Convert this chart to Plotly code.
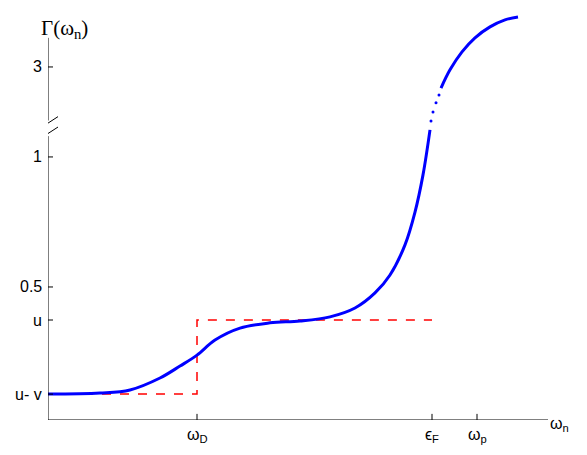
import plotly.graph_objects as go

# lower branch of Γ(ω_n) (x in pixel-like units, y in display units)
x_low = [48, 100, 130, 160, 180, 197, 215, 240, 270, 300, 330, 355, 375, 390, 405, 415, 423, 430]
y_low = [0.088, 0.092, 0.104, 0.150, 0.196, 0.238, 0.296, 0.342, 0.362, 0.369, 0.385, 0.419,
         0.477, 0.546, 0.662, 0.788, 0.931, 1.104]
x_dots = [431, 433, 436, 439]
y_dots = [1.138, 1.173, 1.208, 1.238]
x_up = [441, 450, 462, 475, 490, 505, 518]
y_up = [1.265, 1.335, 1.404, 1.458, 1.500, 1.527, 1.538]
x_step = [48, 197, 197, 432]
y_step = [0.088, 0.088, 0.373, 0.373]

xtick_vals = [197, 432, 477]
xtick_text = ["ω<sub>D</sub>", "ϵ<sub>F</sub>", "ω<sub>p</sub>"]
ytick_vals = [0.088, 0.373, 0.5, 1.0, 1.346]
ytick_text = ["u- v", "u", "0.5", "1", "3"]

blue = "#0000ff"
fig = go.Figure()
fig.add_trace(go.Scatter(x=x_step, y=y_step, mode="lines",
                         line=dict(color="#ff0000", width=1.5, dash="dash")))
fig.add_trace(go.Scatter(x=x_low, y=y_low, mode="lines",
                         line=dict(color=blue, width=3, shape="spline")))
fig.add_trace(go.Scatter(x=x_dots, y=y_dots, mode="markers",
                         marker=dict(color=blue, size=3)))
fig.add_trace(go.Scatter(x=x_up, y=y_up, mode="lines",
                         line=dict(color=blue, width=3, shape="spline")))

ax = dict(color="black", width=1)
shapes = [
    dict(type="line", xref="x", yref="y", x0=48, x1=548, y0=-0.0115, y1=-0.0115, line=ax),
    dict(type="line", xref="x", yref="y", x0=48, x1=48, y0=-0.0115, y1=1.08, line=ax),
    dict(type="line", xref="x", yref="y", x0=48, x1=48, y0=1.14, y1=1.458, line=ax),
    dict(type="line", xref="x", yref="y", x0=38, x1=58, y0=1.065, y1=1.115, line=ax),
    dict(type="line", xref="x", yref="y", x0=38, x1=58, y0=1.105, y1=1.155, line=ax),
]
for v in xtick_vals:
    shapes.append(dict(type="line", xref="x", yref="y", x0=v, x1=v, y0=-0.0115, y1=0.012, line=ax))
for v in ytick_vals:
    shapes.append(dict(type="line", xref="x", yref="y", x0=48, x1=53, y0=v, y1=v, line=ax))

font = dict(family="Liberation Sans", size=16, color="black")
annotations = [dict(x=v, y=-0.0115, text=t, showarrow=False, yanchor="top", yshift=-4, font=font)
               for v, t in zip(xtick_vals, xtick_text)]
annotations += [dict(x=48, y=v, text=t, showarrow=False, xanchor="right", xshift=-4, font=font)
                for v, t in zip(ytick_vals, ytick_text)]
annotations.append(dict(x=1.0, xref="paper", y=-0.0115, text="ω<sub>n</sub>", showarrow=False,
                        xanchor="left", yanchor="middle", xshift=0, yshift=-4, font=font))
annotations.append(dict(x=0.0, xref="paper", y=1.0, yref="paper", text="Γ(ω<sub>n</sub>)",
                        showarrow=False, xanchor="center", yanchor="top", xshift=16, yshift=-4,
                        font=dict(family="Liberation Serif", size=21, color="black")))

fig.update_layout(
    width=587, height=455, showlegend=False,
    paper_bgcolor="white", plot_bgcolor="white",
    margin=dict(l=40, r=47, t=2, b=43),
    xaxis=dict(range=[48, 548], visible=False),
    yaxis=dict(range=[-0.0115, 1.565], visible=False),
    shapes=shapes, annotations=annotations,
)
fig.write_html("out.html")
